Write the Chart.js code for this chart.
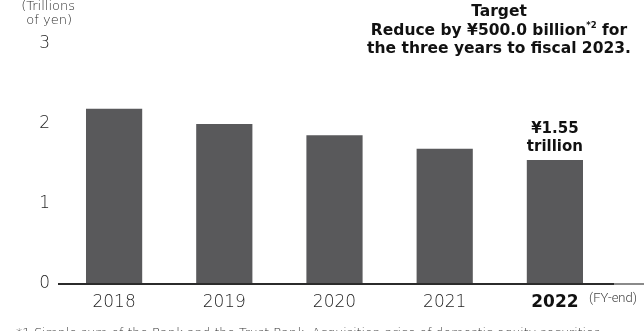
<!DOCTYPE html>
<html>
<head>
<meta charset="utf-8">
<script src="https://cdn.jsdelivr.net/npm/chart.js@4.4.1/dist/chart.umd.min.js"></script>
<style>
  html, body { margin: 0; padding: 0; background: #fff; }
  #wrap { width: 644px; height: 331px; position: relative; }
</style>
</head>
<body>
<div id="wrap"><canvas id="c" width="644" height="331"></canvas></div>
<script>
const categories = ['2018', '2019', '2020', '2021', '2022'];
const values = [2.19, 2.00, 1.86, 1.69, 1.55];
const yTicks = [0, 1, 2, 3];
const unitLabel = ['(Trillions', 'of yen)'];
const titleLines = ['Target', 'Reduce by ¥500.0 billion', 'for', 'the three years to fiscal 2023.'];
const barLabel = ['¥1.55', 'trillion'];
const xUnit = '(FY-end)';
const footnote = '*1 Simple sum of the Bank and the Trust Bank. Acquisition price of domestic equity securities';

const FONT = '"DejaVu Sans", sans-serif';
const NARROW = 'Roboto, sans-serif';
const BAR = '#59595b';

const overlay = {
  id: 'overlay',
  afterDraw(chart) {
    const ctx = chart.ctx;
    const xs = chart.scales.x, ys = chart.scales.y;
    const y0 = ys.getPixelForValue(0);
    ctx.save();
    // baseline axis
    ctx.fillStyle = '#2b2b2b';
    ctx.fillRect(chart.chartArea.left - 1, y0 - 1, 614 - chart.chartArea.left + 1, 2);
    ctx.fillStyle = '#8a8a8a';
    ctx.fillRect(614, y0 - 1, 30, 2);

    // unit label
    ctx.fillStyle = '#2a2a2a';
    ctx.font = '300 13px ' + FONT;
    ctx.textAlign = 'right';
    ctx.textBaseline = 'middle';
    ctx.fillText(unitLabel[0], 75, 7);
    ctx.fillText(unitLabel[1], 72, 21);

    // title
    const cx = 499;
    const TS = 15.5;
    ctx.fillStyle = '#111';
    ctx.textAlign = 'center';
    ctx.font = 'bold ' + TS + 'px ' + FONT;
    ctx.fillText(titleLines[0], cx, 12);
    const a = titleLines[1], b = ' ' + titleLines[2];
    const wa = ctx.measureText(a).width, wb = ctx.measureText(b).width;
    ctx.font = 'bold 8.5px ' + FONT;
    const ws = ctx.measureText('*2').width;
    const total = wa + ws + wb;
    let x = cx - total / 2;
    ctx.textAlign = 'left';
    ctx.font = 'bold ' + TS + 'px ' + FONT;
    ctx.fillText(a, x, 31);
    x += wa;
    ctx.font = 'bold 8.5px ' + FONT;
    ctx.fillText('*2', x, 26);
    x += ws;
    ctx.font = 'bold ' + TS + 'px ' + FONT;
    ctx.fillText(b, x, 31);
    ctx.textAlign = 'center';
    ctx.fillText(titleLines[3], cx, 49);

    // bar label above last bar
    const lx = xs.getPixelForValue(categories.length - 1);
    const ty = ys.getPixelForValue(values[values.length - 1]);
    ctx.font = 'bold 15px ' + FONT;
    ctx.fillStyle = '#111';
    ctx.fillText(barLabel[0], lx, ty - 31);
    ctx.fillText(barLabel[1], lx, ty - 13);

    // FY-end
    ctx.font = '300 13px ' + NARROW;
    ctx.fillStyle = '#444';
    ctx.textAlign = 'left';
    ctx.fillText(xUnit, 589, 299);

    // footnote (cut off)
    ctx.font = '300 12.5px ' + FONT;
    ctx.fillStyle = '#333';
    ctx.textBaseline = 'top';
    ctx.fillText(footnote, 16, 327);
    ctx.restore();
  }
};

new Chart(document.getElementById('c'), {
  type: 'bar',
  data: {
    labels: categories,
    datasets: [{
      data: values,
      backgroundColor: BAR,
      borderWidth: 0,
      categoryPercentage: 1,
      barPercentage: 0.51
    }]
  },
  options: {
    responsive: false,
    animation: false,
    devicePixelRatio: 1,
    layout: { padding: { top: 44, right: 34, left: 0, bottom: 0 } },
    plugins: { legend: { display: false }, tooltip: { enabled: false } },
    scales: {
      x: {
        grid: { display: false, drawTicks: false },
        border: { display: false },
        afterFit(s) { s.height = 47; },
        ticks: {
          padding: 8,
          color: (c) => c.index === 4 ? '#111' : '#1e1e1e',
          font: (c) => c.index === 4 ? { family: FONT, size: 17, weight: 'bold' } : { family: FONT, size: 17, weight: '300' }
        }
      },
      y: {
        min: 0, max: 3,
        afterFit(s) { s.width = 59; },
        afterBuildTicks(s) { s.ticks = yTicks.map(v => ({ value: v })); },
        grid: { display: false, drawTicks: false },
        border: { display: false },
        ticks: {
          padding: 9,
          color: '#1e1e1e',
          font: { family: FONT, size: 17, weight: '300' }
        }
      }
    }
  },
  plugins: [overlay]
});
</script>
</body>
</html>
